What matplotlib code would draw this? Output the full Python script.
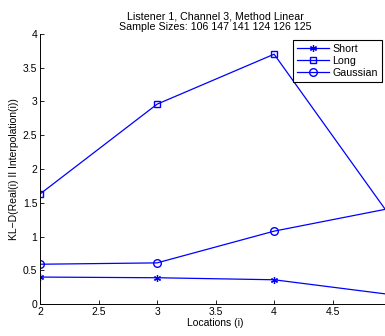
import matplotlib.pyplot as plt

plt.rcParams['font.family'] = ['Liberation Sans', 'DejaVu Sans']

locs = [2, 3, 4, 5]
short = [0.40, 0.39, 0.36, 0.14]
long_ = [1.63, 2.96, 3.70, 1.28]
gauss = [0.59, 0.61, 1.08, 1.42]

fig = plt.figure(figsize=(3.85, 3.36), dpi=100)
ax = fig.add_axes([0.104, 0.095, 0.912, 0.804])

ax.plot(locs, short, color='blue', lw=0.9, marker=(6, 2, 0), ms=5, mew=0.9, label='Short')
ax.plot(locs, long_, color='blue', lw=0.9, marker='s', ms=4.5, mfc='none', label='Long')
ax.plot(locs, gauss, color='blue', lw=0.9, marker='o', ms=5.5, mfc='none', label='Gaussian')

ax.set_xlim(2, 5)
ax.set_ylim(0, 4)
ax.set_xticks([2, 2.5, 3, 3.5, 4, 4.5, 5])
ax.set_xticklabels(['2', '2.5', '3', '3.5', '4', '4.5', ''])
ax.set_yticks([0, 0.5, 1, 1.5, 2, 2.5, 3, 3.5, 4])
ax.set_yticklabels(['0', '0.5', '1', '1.5', '2', '2.5', '3', '3.5', '4'])
ax.tick_params(direction='in', length=3, labelsize=7.5, width=0.6, pad=2)
ax.spines['top'].set_visible(False)
ax.spines['right'].set_visible(False)
for s in ['left', 'bottom']:
    ax.spines[s].set_linewidth(0.7)

ax.set_xlabel('Locations (i)', fontsize=7.5, labelpad=1)
ax.set_ylabel('KL\u2212D(Real(i) II Interpolation(i))', fontsize=7.5, labelpad=3)
ax.set_title('Listener 1, Channel 3, Method Linear\nSample Sizes: 106 147 141 124 126 125',
             fontsize=7.7, pad=3, linespacing=1.05)

leg = ax.legend(loc='upper left', bbox_to_anchor=(0.761, 0.881), bbox_transform=fig.transFigure,
                borderaxespad=0, fontsize=7.7, fancybox=False, framealpha=1,
                handlelength=3.0, labelspacing=0.2, borderpad=0.35, handletextpad=0.35)
leg.get_frame().set_edgecolor('black')
leg.get_frame().set_linewidth(0.8)

fig.savefig('out.png', dpi=100)
